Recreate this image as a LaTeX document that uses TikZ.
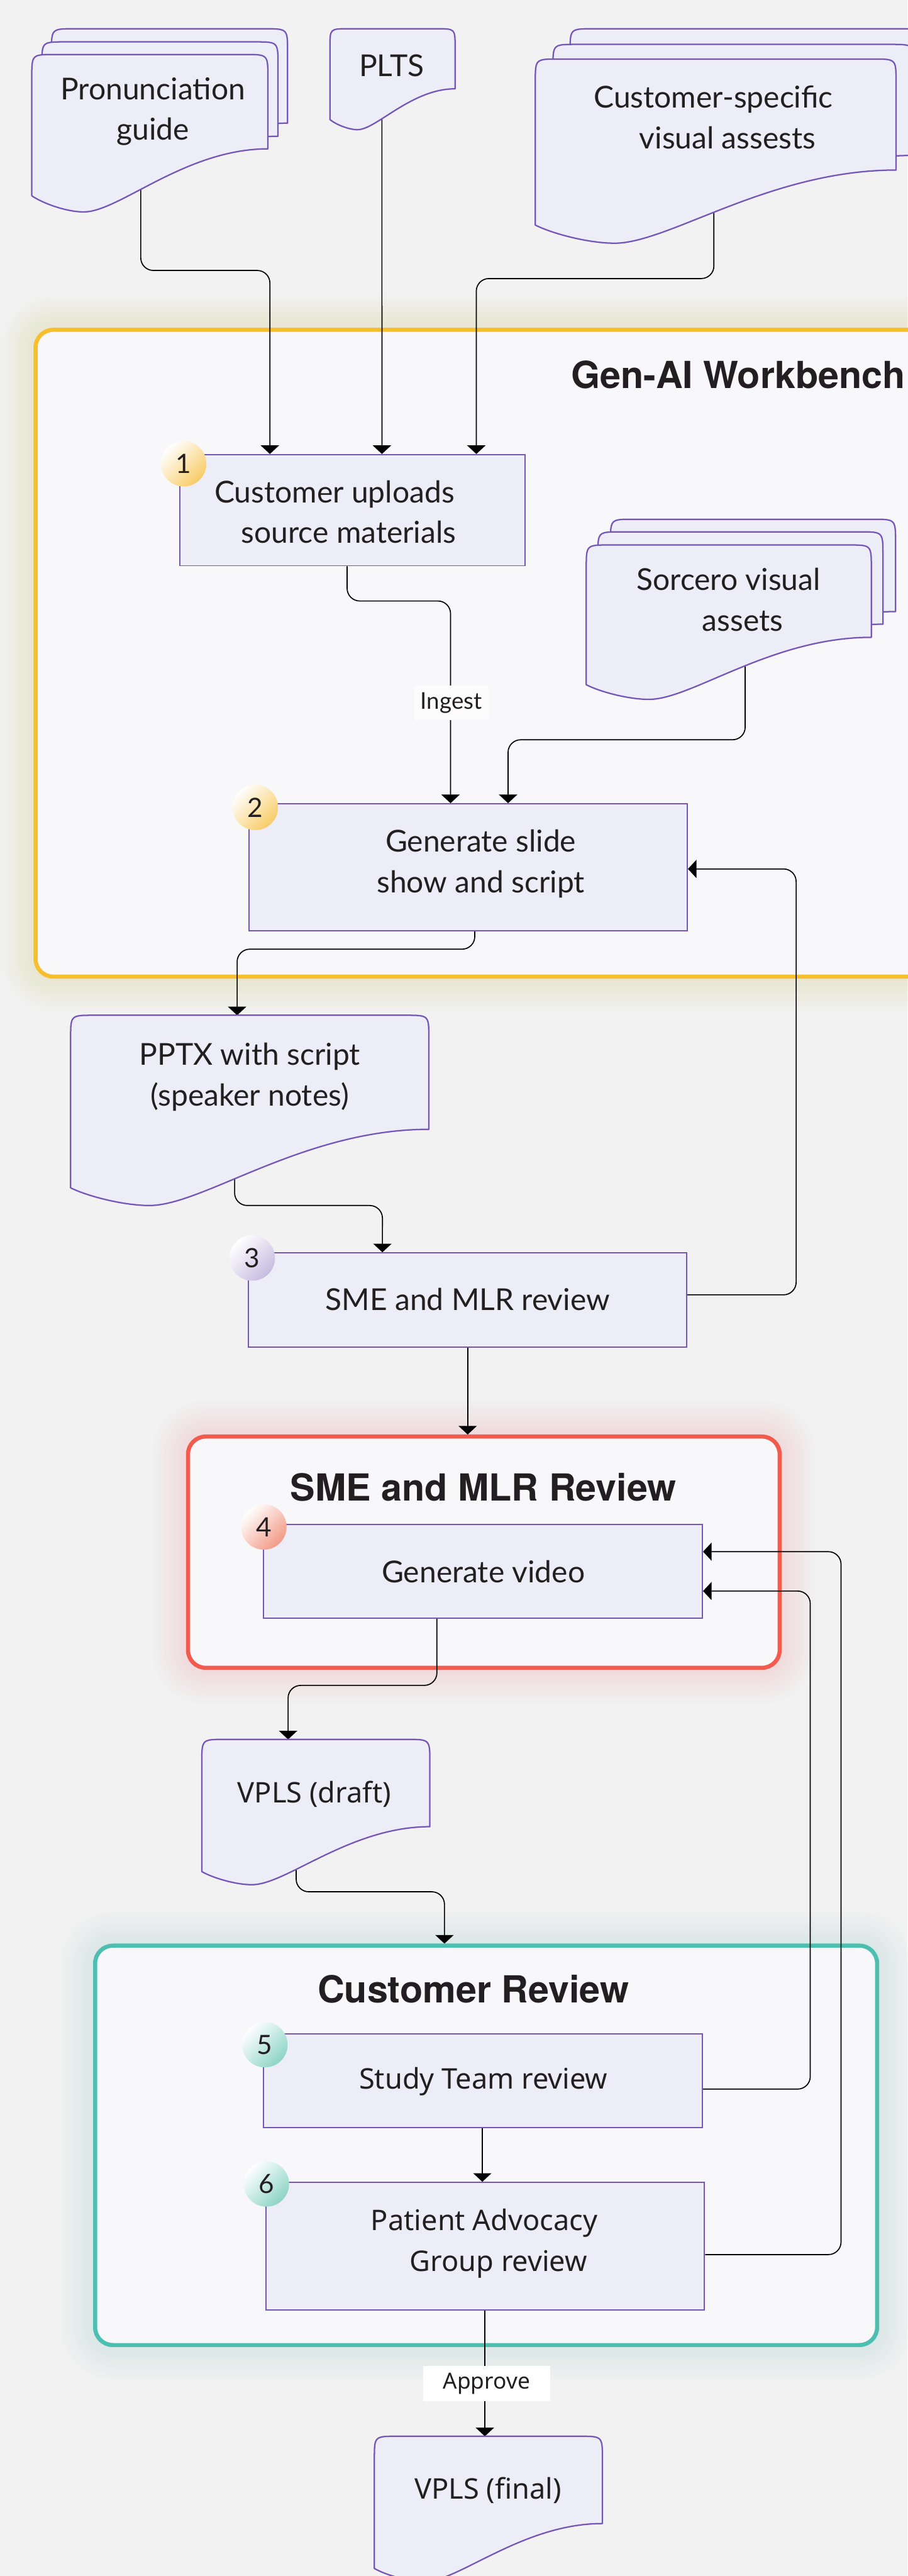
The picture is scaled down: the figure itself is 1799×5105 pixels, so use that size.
\documentclass[tikz,border=0pt]{standalone}
\usepackage{fontspec}
\setmainfont{Lato}
\newfontfamily\nsans{Noto Sans}
\newfontfamily\tfont{TeX Gyre Heros}
\usetikzlibrary{arrows.meta,calc}

\definecolor{bgc}{HTML}{F2F2F2}
\definecolor{framefill}{HTML}{F8F8FA}
\definecolor{nodefill}{HTML}{EDEDF7}
\definecolor{nodeline}{HTML}{7556B8}
\definecolor{ylw}{HTML}{F8BF2C}
\definecolor{redc}{HTML}{F25B4E}
\definecolor{tealc}{HTML}{4CBFB0}
\definecolor{ylwglow}{HTML}{E9D79C}
\definecolor{redglow}{HTML}{F0B2AA}
\definecolor{tealglow}{HTML}{A9DCCF}
\definecolor{txtc}{HTML}{231F20}
\definecolor{bya}{HTML}{F8CC66}
\definecolor{bla}{HTML}{C6BCE0}
\definecolor{bsa}{HTML}{F29A86}
\definecolor{bte}{HTML}{8DD4C5}

\pgfdeclarelayer{bglayer}
\pgfdeclarelayer{glowlayer}
\pgfdeclarelayer{framelayer}
\pgfdeclarelayer{connlayer}
\pgfsetlayers{bglayer,glowlayer,framelayer,connlayer,main}

% document sheet with wavy bottom: x0 x1 top yR yL yMin
\newcommand\docsheet[6]{%
  \pgfmathsetmacro\dw{#2-#1}%
  \pgfmathsetmacro\dxm{#1+0.22*\dw}%
  \pgfmathsetmacro\dr{min(45,0.3*(#4-#3))}%
  \draw[docst] (#1,#5) -- (#1,{#3+\dr}) .. controls (#1,#3) .. ({#1+\dr},#3)
    -- ({#2-\dr},#3) .. controls (#2,#3) .. (#2,{#3+\dr}) -- (#2,#4)
    .. controls ({#2-0.35*\dw},#4) and ({\dxm+0.15*\dw},#6) .. (\dxm,#6)
    .. controls ({\dxm-0.07*\dw},#6) and ({#1+0.05*\dw},{#5+0.5*(#6-#5)}) .. (#1,#5) -- cycle;
}
% soft glow around a frame: x0 y0 x1 y1 colour opacity
\newcommand\glowbox[6]{%
  \foreach \g in {1,...,12}{%
    \pgfmathsetmacro\rr{0.35+0.06*\g}%
    \fill[#5, opacity=#6, rounded corners=\rr cm] ({#1-6*\g},{#2-6*\g}) rectangle ({#3+6*\g},{#4+6*\g});
  }}

\begin{document}
\begin{tikzpicture}[x=0.01cm, y=-0.01cm,
  docst/.style={draw=nodeline, fill=nodefill, line width=0.8pt, line join=round},
  procbox/.style={draw=nodeline, fill=nodefill, line width=0.7pt, inner sep=0pt},
  frame/.style={fill=framefill, line width=2.3pt, rounded corners=0.35cm, inner sep=0pt},
  ltxt/.style={font=\fontsize{17}{23}\selectfont, text=txtc, align=center, inner sep=0pt},
  ntxt/.style={font=\nsans\fontsize{16}{23}\selectfont, text=txtc, align=center, inner sep=0pt},
  ttl/.style={font=\tfont\bfseries\fontsize{21}{25}\selectfont, text=txtc, inner sep=0pt},
  badge/.style={circle, minimum size=0.9cm, inner sep=0pt, font=\fontsize{15}{15}\selectfont, text=txtc},
  conn/.style={line width=0.6pt, black, rounded corners=0.25cm, -{Triangle[width=0.36cm,length=0.17cm]}},
  lblbox/.style={inner sep=0pt, text=txtc}
]
\useasboundingbox (0,0) rectangle (1799,5105);
\begin{pgfonlayer}{bglayer}
  \fill[bgc] (0,0) rectangle (1799,5105);
\end{pgfonlayer}

% ---------- frames ----------
\begin{pgfonlayer}{glowlayer}
  \glowbox{71}{654}{1870}{1935}{ylwglow}{0.03}
  \glowbox{373}{2847}{1545}{3305}{redglow}{0.022}
  \glowbox{189}{3856}{1738}{4647}{tealglow}{0.022}
\end{pgfonlayer}
\begin{pgfonlayer}{framelayer}
  \node[frame, draw=ylw, minimum width=17.99cm, minimum height=12.81cm] (genai) at (970.5,1294.5) {};
  \node[frame, draw=redc, minimum width=11.72cm, minimum height=4.58cm] (smeframe) at (959,3076) {};
  \node[frame, draw=tealc, minimum width=15.49cm, minimum height=7.91cm] (custframe) at (963.5,4251.5) {};
\end{pgfonlayer}
\node[ttl] (tgenai) at (1463,743) {Gen-AI Workbench};
\node[ttl] (tsme) at (958,2947) {SME and MLR Review};
\node[ttl] (tcustrev) at (938,3942) {Customer Review};

% ---------- process boxes ----------
\node[procbox, minimum width=6.83cm, minimum height=2.20cm] (n1) at (698.5,1011) {};
\node[procbox, minimum width=8.68cm, minimum height=2.51cm] (n2) at (928,1718.5) {};
\node[procbox, minimum width=8.68cm, minimum height=1.86cm] (n3) at (927,2576) {};
\node[procbox, minimum width=8.69cm, minimum height=1.86cm] (n4) at (957.5,3114) {};
\node[procbox, minimum width=8.69cm, minimum height=1.85cm] (n5) at (957.5,4123.5) {};
\node[procbox, minimum width=8.68cm, minimum height=2.53cm] (n6) at (962,4451.5) {};

\node[ltxt] (t1) at (663,1014.5) {Customer uploads\\\hspace*{16pt}source materials};
\node[ltxt] (t2) at (953,1711.5) {Generate slide\\show and script};
\node[ltxt] (t3) at (927,2575) {SME and MLR review};
\node[ltxt] (t4) at (958,3115) {Generate video};
\node[ntxt] (t5) at (958,4125) {Study Team review};
\node[ntxt] (t6) at (960,4445.5) {Patient Advocacy\\\hspace*{16pt}Group review};

% ---------- documents ----------
\docsheet{102}{570}{57}{244}{337}{369}
\docsheet{83}{551}{83}{270}{363}{395}
\docsheet{63}{531}{108}{295}{388}{420}
\node[ltxt] (tpron) at (303,221) {Pronunciation\\guide};
\coordinate (pronA) at (279,300);

\docsheet{654}{902}{57}{176}{237}{257}
\node[ltxt] (tplts) at (776,130) {PLTS};
\coordinate (pltsA) at (757,150);

\docsheet{1130}{1845}{57}{277}{386}{422}
\docsheet{1096}{1811}{88}{308}{417}{453}
\docsheet{1061}{1776}{117}{337}{446}{482}
\node[ltxt] (tcust) at (1414,232) {Customer-specific\\\hspace*{16pt}visual assests};
\coordinate (custA) at (1415,380);

\docsheet{1210}{1775}{1029}{1212}{1306}{1335}
\docsheet{1185}{1750}{1054}{1237}{1331}{1360}
\docsheet{1162}{1727}{1080}{1263}{1357}{1386}
\node[ltxt] (tsorc) at (1444,1188) {Sorcero visual\\\hspace*{16pt}assets};
\coordinate (sorcA) at (1477,1290);

\docsheet{140}{850}{2012}{2238}{2354}{2389}
\node[ltxt] (tpptx) at (495,2134.5) {PPTX with script\\(speaker notes)};
\coordinate (pptxA) at (465,2300);
\coordinate (pptxTop) at (470,2012);

\docsheet{400}{852}{3447}{3620}{3709}{3735}
\node[ntxt] (tvd) at (623,3556) {VPLS (draft)};
\coordinate (vdA) at (587,3680);
\coordinate (vdTop) at (571,3447);

\docsheet{742}{1194}{4828}{5001}{5090}{5116}
\node[ntxt] (tvf) at (967,4935) {VPLS (final)};
\coordinate (vfTop) at (961,4828);

% ---------- connectors ----------
\begin{pgfonlayer}{connlayer}
\draw[conn] (pronA) -- (279,536) -- (535,536) -- ([xshift=-1.635cm]n1.north);
\draw[conn] (pltsA) -- ([xshift=0.585cm]n1.north);
\draw[conn] (custA) -- (1415,552) -- (944,552) -- ([xshift=2.455cm]n1.north);
\draw[conn] ([xshift=-0.105cm]n1.south) -- (688,1191) -- (893,1191) -- ([xshift=-0.35cm]n2.north);
\draw[conn] (sorcA) -- (1477,1466) -- (1007,1466) -- ([xshift=0.79cm]n2.north);
\draw[conn] ([xshift=0.13cm]n2.south) -- (941,1881) -- (470,1881) -- (pptxTop);
\draw[conn] (pptxA) -- (465,2389) -- (758,2389) -- ([xshift=-1.69cm]n3.north);
\draw[conn] ([yshift=0.1cm]n3.east) -- (1578,2566) -- (1578,1722) -- ([yshift=-0.035cm]n2.east);
\draw[conn] (n3.south) -- (n3.south |- smeframe.north);
\draw[conn] ([xshift=-0.915cm]n4.south) -- (866,3340) -- (571,3340) -- (vdTop);
\draw[conn] (vdA) -- (587,3749) -- (881,3749) -- ([xshift=-0.825cm]custframe.north);
\draw[conn] ([yshift=-0.165cm]n5.east) -- (1606,4140) -- (1606,3153) -- ([yshift=-0.39cm]n4.east);
\draw[conn] ([xshift=-0.015cm]n5.south) -- ([xshift=-0.015cm]n5.south |- n6.north);
\draw[conn] ([yshift=-0.165cm]n6.east) -- (1667,4468) -- (1667,3075) -- ([yshift=0.39cm]n4.east);
\draw[conn] ([xshift=-0.01cm]n6.south) -- (vfTop);
\end{pgfonlayer}

% ---------- connector labels ----------
\node[lblbox, fill=white!60!framefill, minimum width=1.47cm, minimum height=0.68cm, font=\fontsize{13}{13}\selectfont] (ingest) at (894.5,1393) {Ingest};
\node[lblbox, fill=white, minimum width=2.51cm, minimum height=0.69cm, font=\nsans\fontsize{12.5}{13}\selectfont] (approve) at (964.5,4723.5) {Approve};

% ---------- badges ----------
\node[badge, top color=white, bottom color=bya, shading angle=45] (b1) at (364,919) {1};
\node[badge, top color=white, bottom color=bya, shading angle=45] (b2) at (506,1600) {2};
\node[badge, top color=white, bottom color=bla, shading angle=45] (b3) at (500,2493) {3};
\node[badge, top color=white, bottom color=bsa, shading angle=45] (b4) at (523,3026) {4};
\node[badge, top color=white, bottom color=bte, shading angle=45] (b5) at (525,4052) {5};
\node[badge, top color=white, bottom color=bte, shading angle=45] (b6) at (528,4328) {6};
\end{tikzpicture}
\end{document}
